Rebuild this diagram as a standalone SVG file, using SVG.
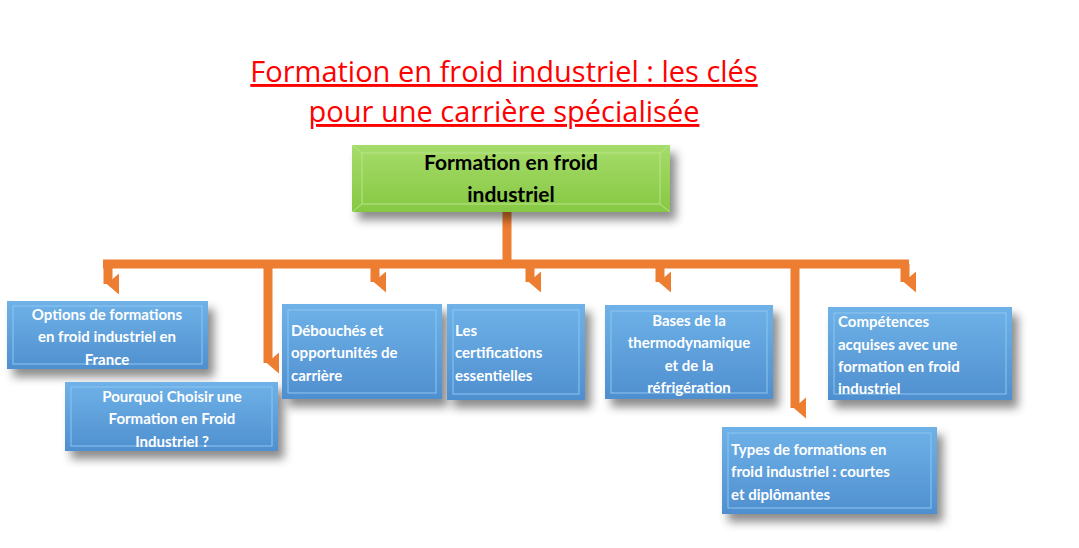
<svg xmlns="http://www.w3.org/2000/svg" width="1079" height="548" viewBox="0 0 1079 548">
<defs>
<linearGradient id="bg" x1="0" y1="0" x2="0" y2="1"><stop offset="0" stop-color="#6fb2e8"/><stop offset="1" stop-color="#4f8fcf"/></linearGradient>
<linearGradient id="gg" x1="0" y1="0" x2="0" y2="1"><stop offset="0" stop-color="#a6dc6a"/><stop offset="1" stop-color="#86c843"/></linearGradient>
<filter id="sh" x="-10%" y="-10%" width="130%" height="150%"><feDropShadow dx="6" dy="8" stdDeviation="5" flood-color="#000" flood-opacity="0.45"/></filter>
<marker id="ah" viewBox="0 0 10 10" refX="5" refY="9" markerWidth="2.4" markerHeight="1.4" orient="auto-start-reverse" markerUnits="strokeWidth" preserveAspectRatio="none"><path d="M0,0 L10,0 L5,10 z" fill="#ed7d31"/></marker>
</defs>
<style>
.t{font-family:Lato,"Liberation Sans",sans-serif;font-weight:bold;font-size:15px;fill:#fff}
.c{text-anchor:middle}
.box{fill:url(#bg);filter:url(#sh)}
.bev{fill:none;stroke:#8ec6f2;stroke-width:1}
.ln{stroke:#ed7d31;stroke-width:9;fill:none}
.ar{stroke:#ed7d31;stroke-width:9;fill:none;marker-end:url(#ah)}
</style>
<rect width="1079" height="548" fill="#fff"/>
<g id="title" font-family="'Open Sans','Liberation Sans',sans-serif" font-size="29" fill="#ff0000" text-anchor="middle" text-decoration="underline">
<text x="504" y="82">Formation en froid industriel : les clés</text>
<text x="504" y="122">pour une carrière spécialisée</text>
</g>
<g id="connectors">
<path class="ln" d="M507,212 V264 M103,264 H909"/>
<path class="ar" d="M108,264 V284"/>
<path class="ar" d="M268,264 V363"/>
<path class="ar" d="M375,264 V282"/>
<path class="ar" d="M530,264 V282"/>
<path class="ar" d="M660,264 V282"/>
<path class="ar" d="M795,264 V408"/>
<path class="ar" d="M905,264 V282"/>
</g>
<g id="root">
<rect x="352" y="145" width="318" height="67" fill="url(#gg)" filter="url(#sh)"/>
<path d="M352,145 L362,153 H660 L670,145 M362,153 V204 H660 V153 M352,212 L362,204 M670,212 L660,204" fill="none" stroke="#b9e58a" stroke-width="1"/>
<text x="511" y="170" class="c" font-family="Lato,'Liberation Sans',sans-serif" font-weight="bold" font-size="21" fill="#000">Formation en froid</text>
<text x="511" y="202" class="c" font-family="Lato,'Liberation Sans',sans-serif" font-weight="bold" font-size="21" fill="#000">industriel</text>
</g>
<g id="n1"><rect class="box" x="7" y="301" width="201" height="68"/><rect class="bev" x="13" y="306" width="189" height="58"/>
<text class="t c" x="107" y="320">Options de formations</text><text class="t c" x="107" y="342">en froid industriel en</text><text class="t c" x="107" y="365">France</text></g>
<g id="n2"><rect class="box" x="65" y="382" width="213" height="69"/><rect class="bev" x="71" y="387" width="201" height="59"/>
<text class="t c" x="172" y="402">Pourquoi Choisir une</text><text class="t c" x="172" y="424">Formation en Froid</text><text class="t c" x="172" y="447">Industriel ?</text></g>
<g id="n3"><rect class="box" x="282" y="304" width="160" height="95"/><rect class="bev" x="288" y="310" width="148" height="83"/>
<text class="t" x="291" y="336">Débouchés et</text><text class="t" x="291" y="358">opportunités de</text><text class="t" x="291" y="381">carrière</text></g>
<g id="n4"><rect class="box" x="447" y="304" width="138" height="96"/><rect class="bev" x="453" y="310" width="126" height="84"/>
<text class="t" x="455" y="336">Les</text><text class="t" x="455" y="358">certifications</text><text class="t" x="455" y="381">essentielles</text></g>
<g id="n5"><rect class="box" x="605" y="305" width="168" height="94"/><rect class="bev" x="611" y="311" width="156" height="82"/>
<text class="t c" x="689" y="326">Bases de la</text><text class="t c" x="689" y="348">thermodynamique</text><text class="t c" x="689" y="371">et de la</text><text class="t c" x="689" y="393">réfrigération</text></g>
<g id="n6"><rect class="box" x="828" y="307" width="184" height="93"/><rect class="bev" x="834" y="313" width="172" height="81"/>
<text class="t" x="838" y="327">Compétences</text><text class="t" x="838" y="350">acquises avec une</text><text class="t" x="838" y="372">formation en froid</text><text class="t" x="838" y="394">industriel</text></g>
<g id="n7"><rect class="box" x="722" y="427" width="215" height="87"/><rect class="bev" x="728" y="433" width="203" height="75"/>
<text class="t" x="731" y="455">Types de formations en</text><text class="t" x="731" y="477">froid industriel : courtes</text><text class="t" x="731" y="500">et diplômantes</text></g>
</svg>
